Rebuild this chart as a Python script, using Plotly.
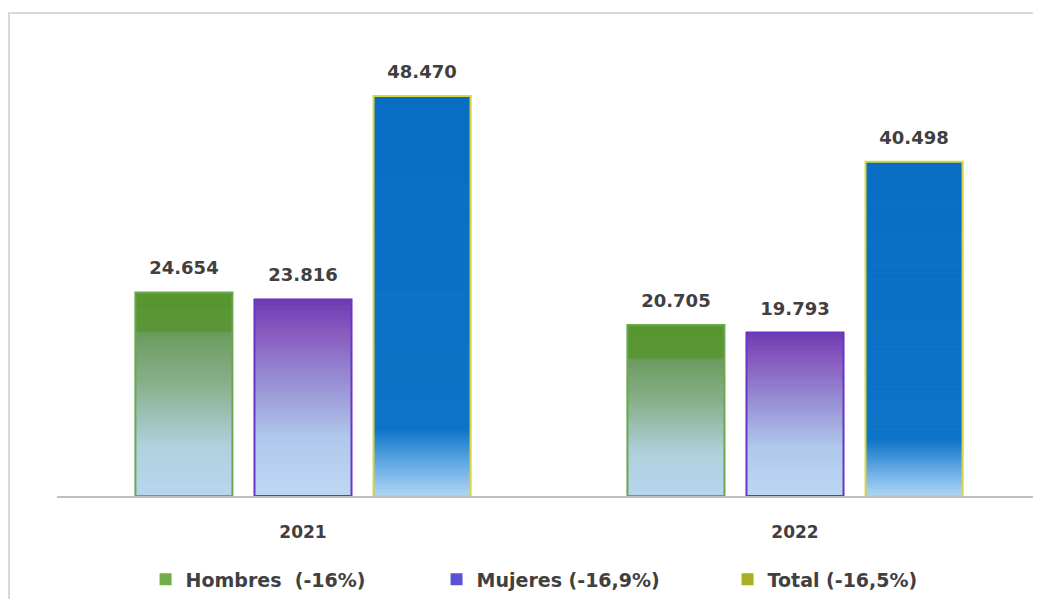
import plotly.graph_objects as go

years = ['2021', '2022']
hombres = [24654, 20705]
mujeres = [23816, 19793]
total = [48470, 40498]
legend_names = ['Hombres\u00a0\u00a0(-16%)', 'Mujeres (-16,9%)', 'Total (-16,5%)']

# gradient stops (fraction of bar height from bottom, rgb) per series
series = [
    dict(name=legend_names[0], values=hombres, line='#6aa84f', legend='#70ad47',
         stops=[(0.0, (184, 214, 238)), (0.25, (176, 208, 222)), (0.55, (138, 176, 140)),
                (0.8, (108, 156, 96)), (0.81, (92, 150, 58)), (1.0, (86, 150, 46))]),
    dict(name=legend_names[1], values=mujeres, line='#6a35c6', legend='#5b52d6',
         stops=[(0.0, (188, 216, 242)), (0.3, (176, 200, 236)), (0.6, (150, 140, 210)),
                (0.85, (134, 88, 190)), (1.0, (112, 60, 178))]),
    dict(name=legend_names[2], values=total, line='#d8d640', legend='#a8ad2a',
         stops=[(0.0, (176, 214, 242)), (0.06, (120, 182, 234)), (0.17, (14, 116, 200)),
                (1.0, (8, 110, 196))]),
]

N = 150


def interp(stops, f):
    for (f0, c0), (f1, c1) in zip(stops, stops[1:]):
        if f0 <= f <= f1:
            t = 0 if f1 == f0 else (f - f0) / (f1 - f0)
            return 'rgb(%d,%d,%d)' % tuple(round(a + (b - a) * t) for a, b in zip(c0, c1))
    return 'rgb(%d,%d,%d)' % stops[-1][1]


fig = go.Figure()
for s in series:
    vals = s['values']
    for i in range(N):
        c = interp(s['stops'], (i + 0.5) / N)
        fig.add_trace(go.Bar(
            x=years, y=[v / N for v in vals], base=[v * i / N for v in vals],
            offsetgroup=s['name'], marker=dict(color=c, line=dict(color=c, width=1)),
            showlegend=False, hoverinfo='skip'))
    # outline
    fig.add_trace(go.Bar(
        x=years, y=vals, offsetgroup=s['name'],
        marker=dict(color='rgba(0,0,0,0)', line=dict(color=s['line'], width=2)),
        showlegend=False))
    # legend entry
    fig.add_trace(go.Bar(
        x=years, y=[None, None], offsetgroup=s['name'], name=s['name'],
        marker=dict(color=s['legend'], line_width=0)))
    # value labels
    fig.add_trace(go.Scatter(
        x=years, y=vals, offsetgroup=s['name'], mode='markers+text',
        marker=dict(size=20, color='rgba(0,0,0,0)'),
        text=[f'{v:,}'.replace(',', '.') for v in vals], textposition='top center',
        textfont=dict(family='DejaVu Sans', size=18, color='#404040', weight='bold'),
        cliponaxis=False, showlegend=False, hoverinfo='skip'))

fig.add_shape(type='rect', xref='paper', yref='paper',
              x0=-0.0488, x1=1.02, y0=-0.3, y1=1.064,
              line=dict(color='#d9d9d9', width=2), fillcolor='rgba(0,0,0,0)', layer='below')

fig.update_layout(
    width=1033, height=591,
    margin=dict(l=49, r=0, t=34, b=103),
    paper_bgcolor='white', plot_bgcolor='white',
    barmode='group', bargap=0.274, bargroupgap=0.185,
    scattermode='group', scattergap=0.274,
    font=dict(family='DejaVu Sans', color='#404040'),
    legend=dict(orientation='h', x=0.09, xanchor='left', y=-0.1416, yanchor='top',
                font=dict(family='DejaVu Sans', size=19, color='#404040', weight='bold'),
                itemwidth=30, traceorder='normal', entrywidthmode='pixels', entrywidth=246),
    xaxis=dict(showline=True, linecolor='#bfbfbf', linewidth=2, ticks='',
               tickfont=dict(family='DejaVu Sans', size=17, color='#404040', weight='bold'),
               ticklabelstandoff=20, showgrid=False),
    yaxis=dict(range=[0, 55000], visible=False, showgrid=False),
)

fig.write_html('out.html')
